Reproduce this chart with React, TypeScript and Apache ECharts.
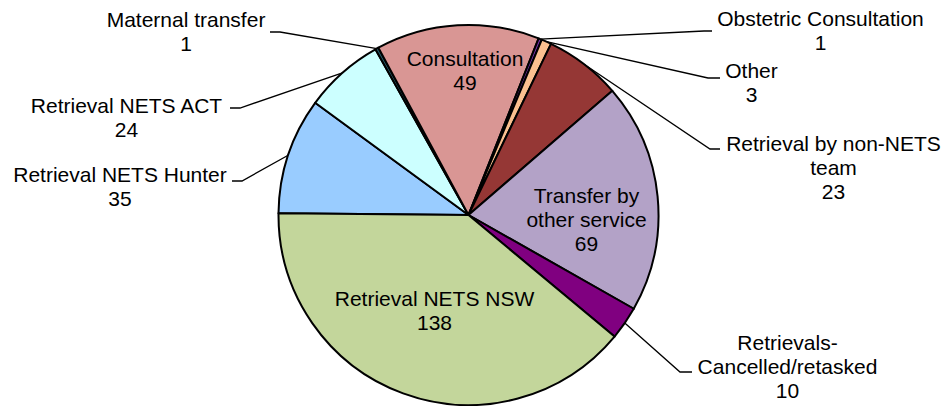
import { useEffect, useRef } from 'react';
import * as echarts from 'echarts';

// Slices, clockwise starting from the left (9 o'clock)
const categories = [
  'Retrieval NETS Hunter',
  'Retrieval NETS ACT',
  'Maternal transfer',
  'Consultation',
  'Obstetric Consultation',
  'Other',
  'Retrieval by non-NETS team',
  'Transfer by other service',
  'Retrievals-Cancelled/retasked',
  'Retrieval NETS NSW',
];
const values = [35, 24, 1, 49, 1, 3, 23, 69, 10, 138];

const sliceColors = [
  '#99CCFF',
  '#CCFFFF',
  '#215968',
  '#D99694',
  '#7030A0',
  '#FAC090',
  '#953735',
  '#B3A2C7',
  '#800080',
  '#C3D69B',
];

const wrappedNames: Record<string, string> = {
  'Transfer by other service': 'Transfer by\nother service',
  'Retrieval by non-NETS team': 'Retrieval by non-NETS\nteam',
  'Retrievals-Cancelled/retasked': 'Retrievals-\nCancelled/retasked',
};

const insideLabels = new Set(['Consultation', 'Transfer by other service', 'Retrieval NETS NSW']);

// Label placement (text block centre) and leader line bend / end points
const labelPlacement: Record<string, { x: number; y: number; bend?: number[]; end?: number[] }> = {
  'Retrieval NETS Hunter': { x: 120, y: 186.5, bend: [242, 181], end: [232, 181] },
  'Retrieval NETS ACT': { x: 126.5, y: 117, bend: [240, 108], end: [230, 108] },
  'Maternal transfer': { x: 186, y: 31.5, bend: [280, 32], end: [270, 32] },
  'Consultation': { x: 465, y: 70.5 },
  'Obstetric Consultation': { x: 820.5, y: 30.5, bend: [704, 31], end: [712, 31] },
  'Other': { x: 751.5, y: 82.5, bend: [708, 78], end: [720, 78] },
  'Retrieval by non-NETS team': { x: 833.5, y: 167, bend: [710, 149], end: [720, 149] },
  'Transfer by other service': { x: 586.5, y: 219 },
  'Retrievals-Cancelled/retasked': { x: 787.5, y: 366, bend: [680, 372], end: [692, 372] },
  'Retrieval NETS NSW': { x: 434.5, y: 310.5 },
};

const FONT = '"Liberation Sans", Arial, Helvetica, sans-serif';

export default function App() {
  const ref = useRef<HTMLDivElement>(null);

  useEffect(() => {
    if (!ref.current) return;
    const chart = echarts.init(ref.current, null, { renderer: 'svg' });
    chart.setOption({
      animation: false,
      series: [
        {
          type: 'pie',
          center: [468.5, 215],
          radius: 190,
          startAngle: 179.5,
          clockwise: true,
          avoidLabelOverlap: false,
          emphasis: { disabled: true },
          itemStyle: { borderColor: '#000', borderWidth: 2 },
          label: {
            show: true,
            position: 'outside',
            fontFamily: FONT,
            fontSize: 21,
            lineHeight: 24,
            color: '#000',
            formatter: (p: any) => `${wrappedNames[p.name] ?? p.name}\n${p.value}`,
          },
          labelLine: {
            show: true,
            length: 10,
            length2: 10,
            smooth: false,
            lineStyle: { color: '#000', width: 1.3 },
          },
          labelLayout: (params: any) => {
            const name = categories[params.dataIndex];
            const pl = labelPlacement[name];
            if (!pl) return {};
            const out: any = { x: pl.x, y: pl.y, align: 'center', verticalAlign: 'middle' };
            if (pl.bend && pl.end && params.labelLinePoints && params.labelLinePoints[0]) {
              out.labelLinePoints = [params.labelLinePoints[0], pl.bend, pl.end];
            }
            return out;
          },
          data: categories.map((name, i) => ({
            name,
            value: values[i],
            itemStyle: { color: sliceColors[i] },
            labelLine: { show: !insideLabels.has(name) },
          })),
        },
      ],
    });
    return () => chart.dispose();
  }, []);

  return (
    <div
      ref={ref}
      style={{ position: 'fixed', left: 0, top: 0, width: 944, height: 406, background: '#fff' }}
    />
  );
}
